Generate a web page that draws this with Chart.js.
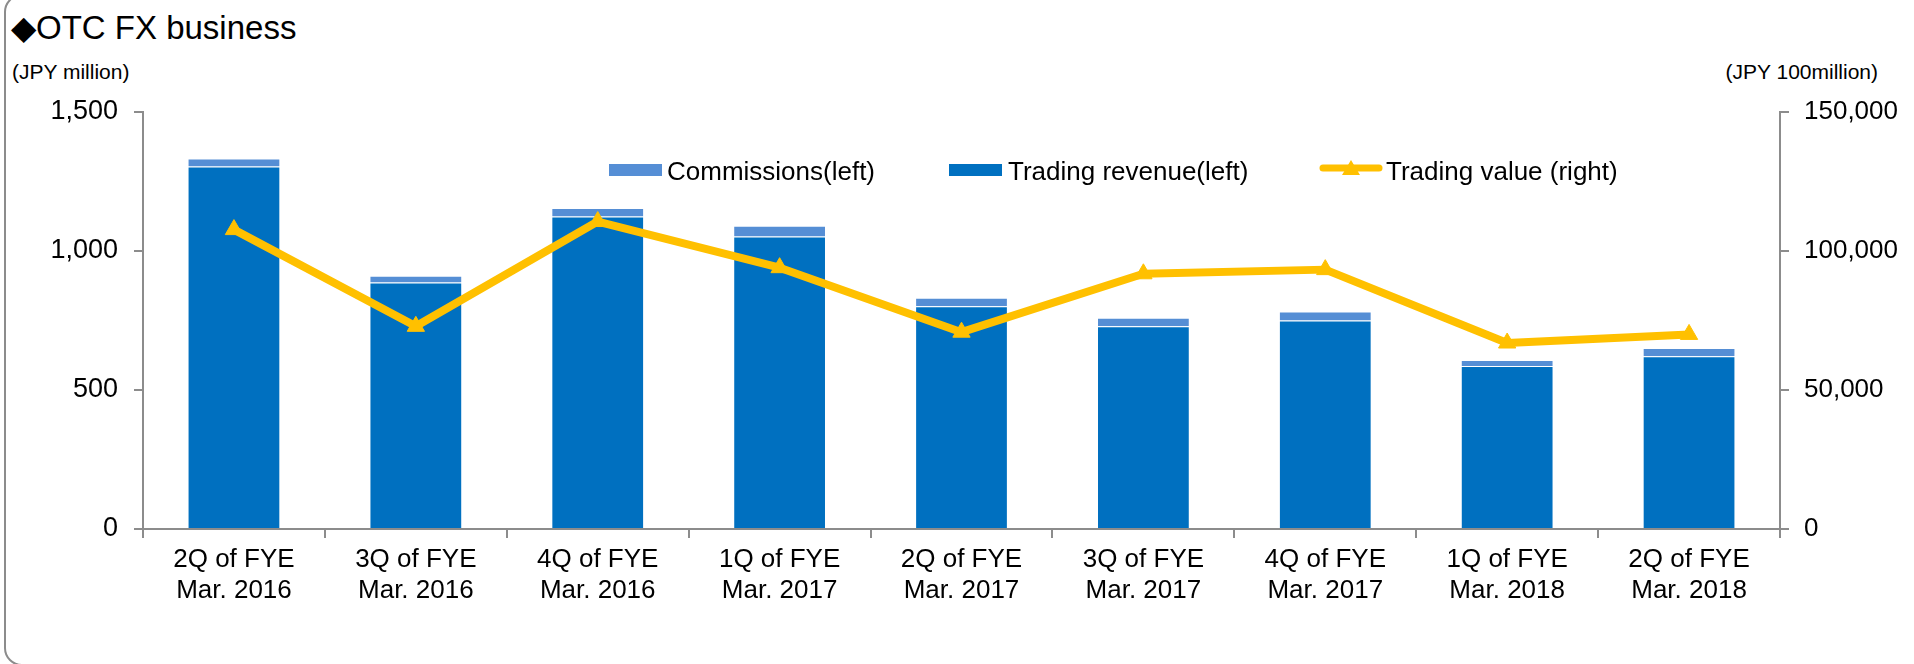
<!DOCTYPE html>
<html lang="en">
<head>
  <meta charset="UTF-8" />
  <title>OTC FX business</title>
  <script src="https://cdn.jsdelivr.net/npm/chart.js"></script>
  <style>
    html, body { margin: 0; padding: 0; background: #fff; }
    body { width: 1914px; height: 664px; position: relative; overflow: hidden;
           font-family: "Liberation Sans", Arial, sans-serif; color: #000; }
    #clip { position: absolute; left: 0; top: 0; width: 1914px; height: 664px; overflow: hidden; }
    #frame { position: absolute; left: 4px; top: -6px; width: 1960px; height: 672px;
             border: 2px solid #8c8c8c; border-radius: 18px; box-sizing: border-box; }
    #title { position: absolute; left: 11px; top: 11px; font-size: 33px; line-height: 33px; white-space: nowrap; }
    .unit { position: absolute; top: 61px; font-size: 21px; line-height: 21px; white-space: nowrap; }
    #chartBox { position: absolute; left: 0; top: 0; width: 1914px; height: 664px; }
    .lg { position: absolute; top: 157px; height: 28px; font-size: 26px; line-height: 28px; white-space: nowrap; }
    .sw { position: absolute; }
  </style>
</head>
<body>
  <div id="clip"><div id="frame"></div></div>
  <div id="title">◆OTC FX business</div>
  <div class="unit" style="left:12px">(JPY million)</div>
  <div class="unit" style="right:36px">(JPY 100million)</div>
  <div id="chartBox"><canvas id="fxChart"></canvas></div>

  <div class="sw" style="left:609px; top:164px; width:53px; height:12px; background:#558ED5"></div>
  <div class="lg" style="left:667px">Commissions(left)</div>
  <div class="sw" style="left:949px; top:164px; width:53px; height:12px; background:#0070C0"></div>
  <div class="lg" style="left:1008px">Trading revenue(left)</div>
  <svg class="sw" style="left:1318px; top:156px" width="66" height="24">
    <line x1="5" y1="12" x2="61" y2="12" stroke="#FFC000" stroke-width="7" stroke-linecap="round"/>
    <polygon points="33,4 42,19 24,19" fill="#FFC000"/>
  </svg>
  <div class="lg" style="left:1386px">Trading value (right)</div>

  <script>
    const categories = [
      ['2Q of FYE', 'Mar. 2016'], ['3Q of FYE', 'Mar. 2016'], ['4Q of FYE', 'Mar. 2016'],
      ['1Q of FYE', 'Mar. 2017'], ['2Q of FYE', 'Mar. 2017'], ['3Q of FYE', 'Mar. 2017'],
      ['4Q of FYE', 'Mar. 2017'], ['1Q of FYE', 'Mar. 2018'], ['2Q of FYE', 'Mar. 2018']
    ];
    // JPY million (left axis)
    const tradingRevenue = [1304, 887, 1124, 1052, 801, 729, 750, 586, 621];
    const commissions = [29, 24, 31, 39, 31, 31, 32, 22, 30];
    // JPY 100 million (right axis)
    const tradingValue = [107700, 72900, 110600, 94000, 70800, 91800, 93300, 66900, 70000];

    const leftTicks = [0, 500, 1000, 1500];
    const rightTicks = [0, 50000, 100000, 150000];

    const axisGray = '#8c8c8c';
    const tickFont = { family: '"Liberation Sans", Arial, sans-serif', size: 26 };
    const fmt = v => Number(v).toLocaleString('en-US');

    new Chart(document.getElementById('fxChart'), {
      data: {
        labels: categories,
        datasets: [
          {
            type: 'line', label: 'Trading value (right)', data: tradingValue, yAxisID: 'y1', order: 0,
            borderColor: '#FFC000', borderWidth: 8, borderJoinStyle: 'round', borderCapStyle: 'round',
            pointStyle: 'triangle', pointRadius: 10, pointBackgroundColor: '#FFC000',
            pointBorderColor: '#FFC000', pointBorderWidth: 1, tension: 0
          },
          {
            type: 'bar', label: 'Trading revenue(left)', data: tradingRevenue, yAxisID: 'y', order: 1,
            backgroundColor: '#0070C0', borderColor: 'rgba(255,255,255,0.25)', borderWidth: 1,
            categoryPercentage: 1, barPercentage: 0.51
          },
          {
            type: 'bar', label: 'Commissions(left)', data: commissions, yAxisID: 'y', order: 1,
            backgroundColor: '#558ED5', borderColor: 'rgba(255,255,255,0.25)', borderWidth: 1,
            categoryPercentage: 1, barPercentage: 0.51
          }
        ]
      },
      options: {
        responsive: true,
        maintainAspectRatio: false,
        animation: false,
        layout: { padding: { top: 112, left: 0, right: 0, bottom: 0 } },
        plugins: { legend: { display: false }, tooltip: { enabled: false } },
        scales: {
          x: {
            stacked: true,
            grid: { display: true, drawOnChartArea: false, drawTicks: true, tickLength: 9, color: axisGray, lineWidth: 2, offset: true },
            border: { display: true, color: axisGray, width: 2 },
            ticks: { color: '#000', font: tickFont, padding: 6, maxRotation: 0, autoSkip: false },
            afterFit: s => { s.height = 135; }
          },
          y: {
            position: 'left', stacked: true, min: 0, max: 1500,
            afterBuildTicks: s => { s.ticks = leftTicks.map(v => ({ value: v })); },
            grid: { display: true, drawOnChartArea: false, drawTicks: true, tickLength: 9, color: axisGray, lineWidth: 2 },
            border: { display: true, color: axisGray, width: 2 },
            ticks: { color: '#000', font: { family: tickFont.family, size: 27 }, padding: 16, callback: v => fmt(v) },
            afterFit: s => { s.width = 143; }
          },
          y1: {
            position: 'right', min: 0, max: 150000,
            afterBuildTicks: s => { s.ticks = rightTicks.map(v => ({ value: v })); },
            grid: { display: true, drawOnChartArea: false, drawTicks: true, tickLength: 9, color: axisGray, lineWidth: 2 },
            border: { display: true, color: axisGray, width: 2 },
            ticks: { color: '#000', font: tickFont, padding: 15, callback: v => fmt(v) },
            afterFit: s => { s.width = 134; }
          }
        }
      }
    });
  </script>
</body>
</html>
